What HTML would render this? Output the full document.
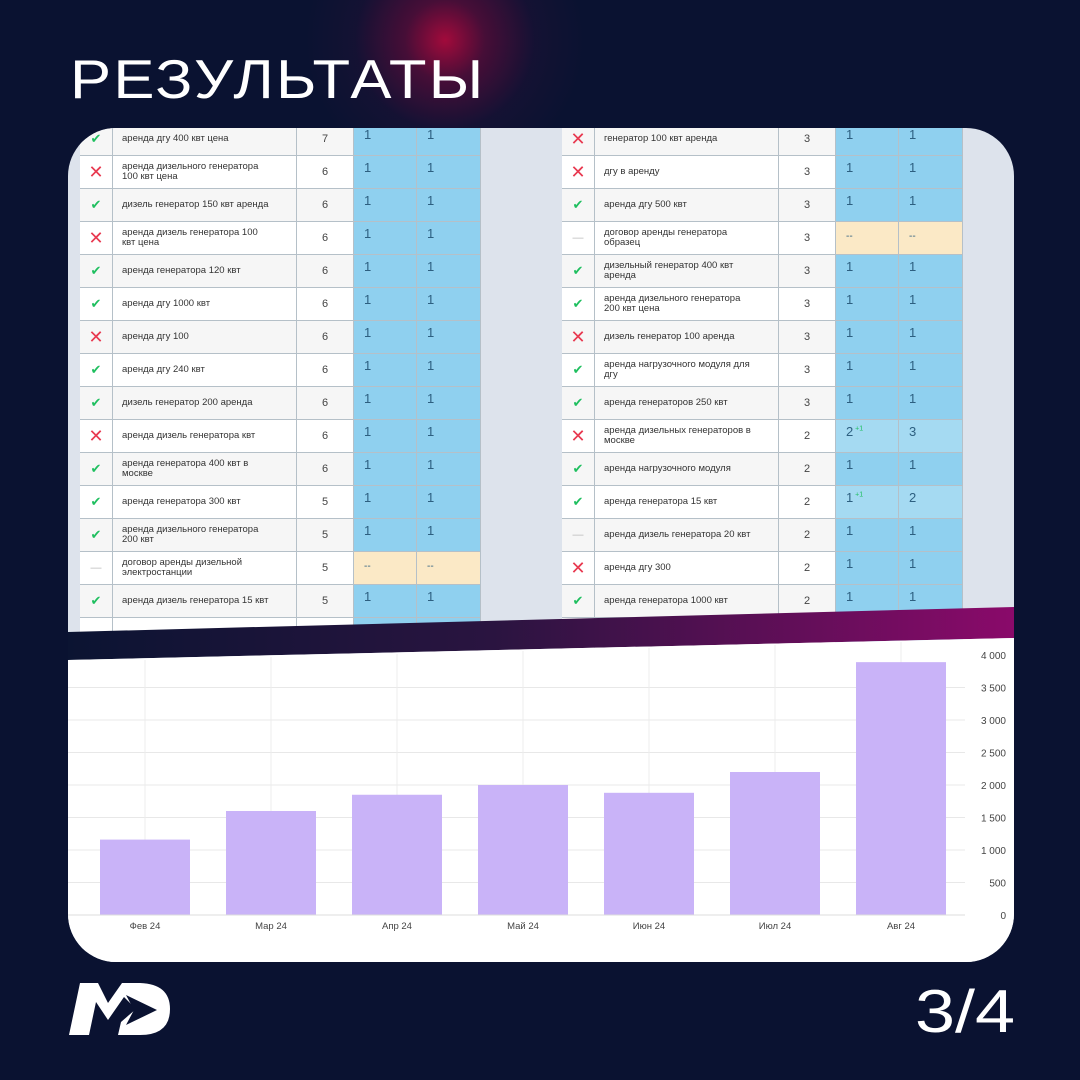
<!DOCTYPE html>
<html><head><meta charset="utf-8">
<style>
html,body{margin:0;padding:0;}
body{width:1080px;height:1080px;position:relative;overflow:hidden;background:#0a1231;font-family:"Liberation Sans","DejaVu Sans",sans-serif;}
#glow{position:absolute;left:0;top:0;width:1080px;height:1080px;background:radial-gradient(circle at 445px 40px,rgba(170,10,60,0.95) 0px,rgba(120,10,60,0.55) 40px,rgba(60,15,60,0.2) 90px,rgba(10,18,49,0) 140px);}
#title{position:absolute;left:70px;top:49px;color:#fff;font-size:55px;letter-spacing:2px;line-height:60px;font-weight:400;transform:scaleX(1.12);transform-origin:left;}
#card{position:absolute;left:68px;top:128px;width:946px;height:834px;border-radius:48px;overflow:hidden;background:#dde3ec;}
.cell{position:absolute;box-sizing:border-box;border-right:1px solid #b5c0c8;border-bottom:1px solid #b5c0c8;font-size:9.5px;color:#333;}
.kw{padding-left:9px;padding-right:24px;display:flex;align-items:center;line-height:10px;}
.num{text-align:center;display:flex;align-items:center;justify-content:center;font-size:11px;color:#444;}
.pos{font-size:13px;color:#2d5f80;padding-left:10px;padding-top:4px;}
.ic{display:flex;align-items:center;justify-content:center;font-size:15px;}
#svg{position:absolute;left:-68px;top:-128px;}
#logo{position:absolute;left:0;top:0;}
#page{position:absolute;left:915px;top:982px;color:#fff;font-size:60px;line-height:60px;transform:scaleX(1.2);transform-origin:left;font-weight:300;}
</style></head><body>
<div id="glow"></div>
<div id="title">РЕЗУЛЬТАТЫ</div>
<div id="card">
<div id="tables"></div>
<svg id="svg" width="1080" height="1080">
<defs><linearGradient id="bg" x1="0" x2="1" y1="0" y2="0"><stop offset="0" stop-color="#0b1432"/><stop offset="0.45" stop-color="#2a1440"/><stop offset="1" stop-color="#8a0a6a"/></linearGradient></defs>
<g id="chart"></g>
</svg>
</div>
<svg id="logo" width="1080" height="1080">
<path d="M69 1035 L80 983 L98 983 L108 1003 L122 983 L140 983 Q170 984 170 1009 Q170 1035 140 1035 L118 1035 L121 1022 L136 1009 L124 997 L108 1020 L96 1002 L89 1035 Z" fill="#fff"/>
<path d="M126 995 L157 1010 L126 1025 L134 1010 Z" fill="#0a1231"/>
</svg>
<div id="page">3/4</div>
<script>
const leftKw=["аренда дгу 400 квт цена","аренда дизельного генератора 100 квт цена","дизель генератор 150 квт аренда","аренда дизель генератора 100 квт цена","аренда генератора 120 квт","аренда дгу 1000 квт","аренда дгу 100","аренда дгу 240 квт","дизель генератор 200 аренда","аренда дизель генератора квт","аренда генератора 400 квт в москве","аренда генератора 300 квт","аренда дизельного генератора 200 квт","договор аренды дизельной электростанции","аренда дизель генератора 15 квт"];
const leftSt=["y","n","y","n","y","y","n","y","y","n","y","y","y","d","y"];
const leftFreq=[7,6,6,6,6,6,6,6,6,6,6,5,5,5,5];
const leftP1=["1","1","1","1","1","1","1","1","1","1","1","1","1","--","1"];
const leftP2=["1","1","1","1","1","1","1","1","1","1","1","1","1","--","1"];
const rightKw=["генератор 100 квт аренда","дгу в аренду","аренда дгу 500 квт","договор аренды генератора образец","дизельный генератор 400 квт аренда","аренда дизельного генератора 200 квт цена","дизель генератор 100 аренда","аренда нагрузочного модуля для дгу","аренда генераторов 250 квт","аренда дизельных генераторов в москве","аренда нагрузочного модуля","аренда генератора 15 квт","аренда дизель генератора 20 квт","аренда дгу 300","аренда генератора 1000 квт"];
const rightSt=["n","n","y","d","y","y","n","y","y","n","y","y","d","n","y"];
const rightFreq=[3,3,3,3,3,3,3,3,3,2,2,2,2,2,2];
const rightP1=["1","1","1","--","1","1","1","1","1","2","1","1","1","1","1"];
const rightP2=["1","1","1","--","1","1","1","1","1","3","1","2","1","1","1"];
const rightUp=["","","","","","","","","","+1","","+1","","",""];

const months=["Фев 24","Мар 24","Апр 24","Май 24","Июн 24","Июл 24","Авг 24"];
const visits=[1160,1600,1850,2000,1880,2200,3890];
const yTicks=[0,500,1000,1500,2000,2500,3000,3500,4000];
const yTickLabels=["0","500","1 000","1 500","2 000","2 500","3 000","3 500","4 000"];

const T=document.getElementById('tables');
function mk(cls,x,y,w,h,bg){const d=document.createElement('div');d.className='cell '+cls;d.style.left=x+'px';d.style.top=y+'px';d.style.width=w+'px';d.style.height=h+'px';if(bg)d.style.background=bg;T.appendChild(d);return d;}
function table(x0,kw,st,fr,p1,p2,up,name){
  const rowH=33,y0=-5;
  for(let i=0;i<=kw.length;i++){
    const y=y0+i*rowH;const bg=i%2===0?'#f6f6f6':'#ffffff';
    const last=i===kw.length;
    const ic=mk('ic',x0,y,33,rowH,bg);
    
    
    const k=mk('kw',x0+33,y,184,rowH,bg);
    
    
    const f=mk('num',x0+217,y,57,rowH,bg);
    
    
    if(last){mk('pos',x0+274,y,63,rowH,'#8fd0ef');mk('pos',x0+337,y,64,rowH,'#8fd0ef');continue;}
    const s=st[i];
    if(s==='y'){ic.textContent='✔';ic.style.color='#1fbf5f';ic.style.fontSize='13px';}
    else if(s==='n'){ic.textContent='✕';ic.style.color='#e8384f';ic.style.fontSize='18px';}
    else {ic.textContent='—';ic.style.color='#bbb';ic.style.fontSize='11px';}
    k.textContent=kw[i];f.textContent=fr[i];
    const dash=p1[i]==='--';
    const c1=dash?'#fbe9c6':(up&&up[i]?'#a5daf2':'#8fd0ef');
    const c2=dash?'#fbe9c6':(up&&up[i]?'#a5daf2':'#8fd0ef');
    const a=mk('pos',x0+274,y,63,rowH,c1);
    
    
    const b=mk('pos',x0+337,y,64,rowH,c2);
    
    
    if(dash){a.style.fontSize='10px';b.style.fontSize='10px';a.style.paddingTop='9px';b.style.paddingTop='9px';}
    a.innerHTML=p1[i]+(up&&up[i]?'<sup style="color:#1fbf5f;font-size:7px"> '+up[i]+'</sup>':'');
    b.textContent=p2[i];
  }
}
table(12,leftKw,leftSt,leftFreq,leftP1,leftP2,null,'left-table');
table(494,rightKw,rightSt,rightFreq,rightP1,rightP2,rightUp,'right-table');

const NS='http://www.w3.org/2000/svg';
const G=document.getElementById('chart');
function el(t,a){const e=document.createElementNS(NS,t);for(const k in a)e.setAttribute(k,a[k]);G.appendChild(e);return e;}
const band=el('polygon',{points:'68,632 1014,607 1014,638 68,660',fill:'url(#bg)'});


const wbg=el('polygon',{points:'68,660 1014,638 1014,962 68,962',fill:'#ffffff'});


const y0=915,yMax=4000,plotH=260;
const yS=v=>y0-v/yMax*plotH;
const x0=145,step=126;
const xS=i=>x0+i*step;
yTicks.forEach((t,i)=>{
  const yy=yS(t);
  if(yy>=658){const g=el('line',{x1:68,x2:965,y1:yy,y2:yy,stroke:'#e8e8e8','stroke-width':1});
  
  }
  const tx=el('text',{x:1006,y:yy+4,'text-anchor':'end','font-size':10,fill:'#444','font-family':'Liberation Sans, sans-serif'});
  tx.textContent=yTickLabels[i];
  
  
});
months.forEach((m,i)=>{
  const gl=el('line',{x1:xS(i),x2:xS(i),y1:660-i*3,y2:915,stroke:'#ececec','stroke-width':1});
  
  
});
months.forEach((m,i)=>{
  const h=y0-yS(visits[i]);
  const r=el('rect',{x:xS(i)-45,y:yS(visits[i]),width:90,height:h,fill:'#c9b3f8'});
  
  
  const t=el('text',{x:xS(i),y:929,'text-anchor':'middle','font-size':9.5,fill:'#444','font-family':'Liberation Sans, sans-serif'});
  t.textContent=m;
  
  
});
const ax=el('line',{x1:68,x2:965,y1:915,y2:915,stroke:'#ddd','stroke-width':1});


</script>
</body></html>
